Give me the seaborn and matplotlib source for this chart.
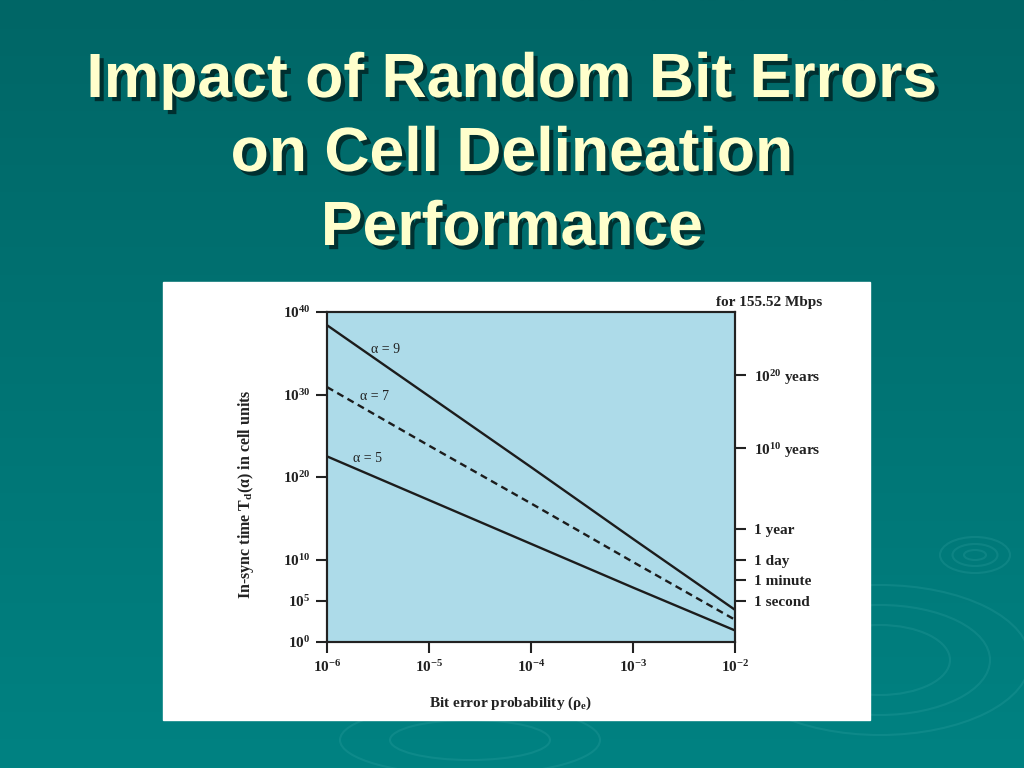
import numpy as np
import pandas as pd
import matplotlib
matplotlib.use("Agg")
import matplotlib.pyplot as plt
import matplotlib.patheffects as pe
from matplotlib.patches import Rectangle, Ellipse
import seaborn as sns

# values (powers of ten)
pe_exp = [-6, -5, -4, -3, -2]
alpha9_exp = [38.4, 29.8, 21.2, 12.5, 3.9]
alpha7_exp = [30.9, 23.8, 16.8, 9.7, 2.7]
alpha5_exp = [22.5, 17.2, 11.9, 6.6, 1.4]
series_names = ["α = 9", "α = 7", "α = 5"]
left_tick_exp = [0, 5, 10, 20, 30, 40]
time_labels = ["1 second", "1 minute", "1 day", "1 year",
               "$10^{10}$ years", "$10^{20}$ years"]
time_exp = [5.0, 7.5, 9.9, 13.7, 23.5, 32.4]
title_lines = ["Impact of Random Bit Errors", "on Cell Delineation", "Performance"]

rows = []
for name, vals in zip(series_names, [alpha9_exp, alpha7_exp, alpha5_exp]):
    for x, y in zip(pe_exp, vals):
        rows.append({"pe": 10.0 ** x, "T": 10.0 ** y, "alpha": name})
df = pd.DataFrame(rows)

sns.set_theme(style="ticks")
plt.rcParams["font.family"] = ["Liberation Serif", "DejaVu Serif"]
plt.rcParams["mathtext.fontset"] = "custom"
plt.rcParams["mathtext.rm"] = "Liberation Serif:bold"
plt.rcParams["mathtext.it"] = "Liberation Serif:italic:bold"
plt.rcParams["mathtext.bf"] = "Liberation Serif:bold"

fig = plt.figure(figsize=(10.24, 7.68), dpi=100)

# slide background: teal gradient with a few faint ripples
bg = fig.add_axes([0, 0, 1, 1], zorder=-10)
grad = np.linspace(0, 1, 256).reshape(-1, 1)
top = np.array([0, 102, 102]) / 255
bot = np.array([0, 130, 130]) / 255
img = top + (bot - top) * grad[..., None]
bg.imshow(img, aspect="auto", extent=[0, 1, 0, 1], origin="upper")
for cx, cy, w, h in [(975, 555, 70, 36), (975, 555, 45, 22), (975, 555, 22, 10),
                     (880, 660, 300, 150), (880, 660, 220, 110), (880, 660, 140, 70),
                     (470, 740, 260, 70), (470, 740, 160, 40)]:
    bg.add_patch(Ellipse((cx / 1024, 1 - cy / 768), w / 1024, h / 768,
                         fill=False, ec=(0.3, 0.7, 0.7), lw=1.5, alpha=0.18))
bg.add_patch(Rectangle((163 / 1024, 1 - 720 / 768), (870 - 163) / 1024,
                       (720 - 282) / 768, color="white", zorder=5))
bg.set_xlim(0, 1)
bg.set_ylim(0, 1)
bg.axis("off")

for i, line in enumerate(title_lines):
    fig.text(0.5, 1 - (97 + 74 * i) / 768, line, ha="center", va="baseline",
             fontsize=45, fontweight="bold", color="#FFFFCC",
             family=["Liberation Sans", "DejaVu Sans"],
             path_effects=[pe.withSimplePatchShadow(offset=(3, -3),
                                                    shadow_rgbFace="black", alpha=0.55)])

ink = "#222222"
ax = fig.add_axes([327 / 1024, 1 - 642 / 768, 408 / 1024, 330 / 768], zorder=2)
ax.set_facecolor("#ADDBE9")
sns.lineplot(data=df, x="pe", y="T", hue="alpha", style="alpha",
             palette={n: "#1c1c1c" for n in series_names},
             dashes={"α = 9": "", "α = 7": (3, 2), "α = 5": ""},
             legend=False, lw=1.7, ax=ax)
ax.set_xscale("log")
ax.set_yscale("log")
ax.set_xlim(1e-6, 1e-2)
ax.set_ylim(1, 1e40)
ax.minorticks_off()
ax.set_xticks([10.0 ** e for e in pe_exp], labels=[f"$10^{{{e}}}$" for e in pe_exp])
ax.set_yticks([10.0 ** e for e in left_tick_exp],
              labels=[f"$10^{{{e}}}$" for e in left_tick_exp])
ax.tick_params(direction="out", length=8, width=1.5, color=ink, labelcolor=ink,
               labelsize=11, pad=4)
for s in ax.spines.values():
    s.set_color(ink)
    s.set_linewidth(1.5)

ax.set_xlabel("Bit error probability (ρ$_\\mathrm{e}$)", fontsize=11,
              fontweight="bold", color=ink)
ax.xaxis.set_label_coords(0.451, -0.16)
ax.set_ylabel("In-sync time T$_\\mathrm{d}$(α) in cell units", fontsize=11.5,
              fontweight="bold", color=ink)
ax.yaxis.set_label_coords(-0.175, 0.448)

ax.text(1.213, 1.03, "for 155.52 Mbps", transform=ax.transAxes, ha="right",
        va="center", fontsize=11, fontweight="bold", color=ink)
for name, lx, ly in [("α = 9", -5.43, 35.5), ("α = 7", -5.53, 29.7), ("α = 5", -5.6, 22.2)]:
    ax.text(10 ** lx, 10 ** ly, name, ha="center", va="center", fontsize=10,
            fontweight="medium", color=ink)

ax2 = ax.twinx()
ax2.set_yscale("log")
ax2.set_ylim(ax.get_ylim())
ax2.minorticks_off()
ax2.set_yticks([10.0 ** e for e in time_exp], labels=time_labels)
ax2.tick_params(direction="out", length=8, width=1.5, color=ink, labelcolor=ink,
                labelsize=11, pad=6)
for s in ax2.spines.values():
    s.set_color(ink)
    s.set_linewidth(1.5)
for lab in ax2.get_yticklabels():
    lab.set_fontweight("bold")
for lab in ax.get_xticklabels() + ax.get_yticklabels():
    lab.set_fontweight("bold")

fig.savefig("out.png", dpi=100)
